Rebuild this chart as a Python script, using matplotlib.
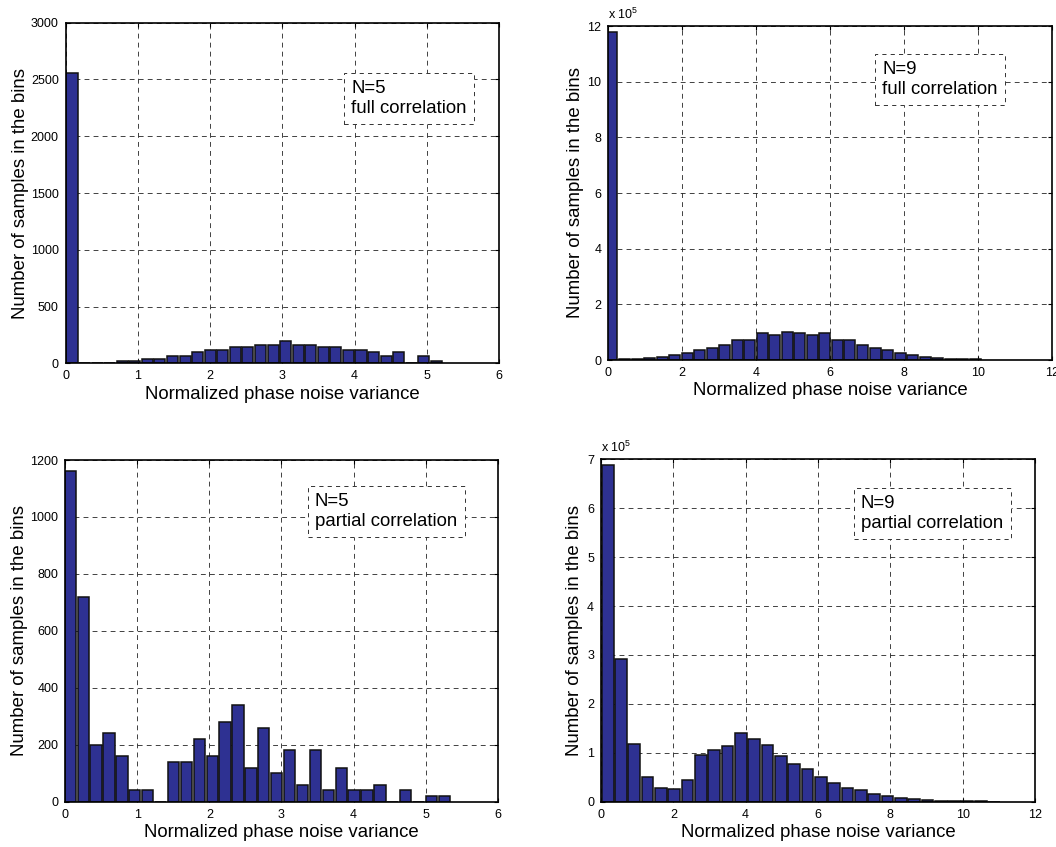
import numpy as np
import matplotlib
matplotlib.use("Agg")
import matplotlib.pyplot as plt

plt.rcParams['font.family'] = ['Liberation Sans', 'DejaVu Sans']
plt.rcParams['mathtext.fontset'] = 'custom'
plt.rcParams['mathtext.rm'] = 'Liberation Sans'
plt.rcParams['mathtext.it'] = 'Liberation Sans'
plt.rcParams['lines.scale_dashes'] = False

# ---------------- data ----------------
n_bins = 30
# N=5 full correlation
tl_range = (0.0, 5.22)
tl_counts = [2560, 0, 0, 0, 20, 20, 40, 40, 60, 60, 100, 120, 120, 140, 140,
             160, 160, 200, 160, 160, 140, 140, 120, 120, 100, 60, 100, 0, 60, 20]
# N=9 full correlation (x 10^5)
tr_range = (-0.07, 10.1)
tr_counts = [11.8, 0.03, 0.03, 0.07, 0.12, 0.18, 0.24, 0.36, 0.43, 0.54, 0.72, 0.72,
             0.96, 0.89, 1.02, 0.96, 0.89, 0.96, 0.72, 0.72, 0.54, 0.43, 0.36, 0.24,
             0.18, 0.12, 0.07, 0.04, 0.03, 0.02]
# N=5 partial correlation
bl_range = (-0.02, 5.35)
bl_counts = [1160, 720, 200, 240, 160, 40, 40, 0, 140, 140, 220, 160, 280, 340, 120,
             260, 100, 180, 60, 180, 40, 120, 40, 40, 60, 0, 40, 0, 20, 20]
# N=9 partial correlation (x 10^5)
br_range = (0.0, 11.05)
br_counts = [6.89, 2.91, 1.18, 0.51, 0.28, 0.26, 0.44, 0.96, 1.05, 1.14, 1.40, 1.28,
             1.16, 0.93, 0.77, 0.67, 0.51, 0.39, 0.28, 0.24, 0.15, 0.12, 0.08, 0.05,
             0.03, 0.02, 0.01, 0.01, 0.005, 0.003]

xlabel = "Normalized phase noise variance"
ylabel = "Number of samples in the bins"
tl_text = "N=5\nfull correlation"
tr_text = "N=9\nfull correlation"
bl_text = "N=5\npartial correlation"
br_text = "N=9\npartial correlation"

tl_yticks = [0, 500, 1000, 1500, 2000, 2500, 3000]
tr_yticks = [0, 2, 4, 6, 8, 10, 12]
bl_yticks = [0, 200, 400, 600, 800, 1000, 1200]
br_yticks = [0, 1, 2, 3, 4, 5, 6, 7]
x6_ticks = [0, 1, 2, 3, 4, 5, 6]
x12_ticks = [0, 2, 4, 6, 8, 10, 12]

bar_color = '#2E3192'

W, H = 1056, 847
fig = plt.figure(figsize=(W / 100, H / 100), dpi=100)


def px_axes(l, t, r, b):
    return fig.add_axes([l / W, 1 - b / H, (r - l) / W, (b - t) / H])


def panel(ax, rng, counts, xticks, yticks, text, box_px, ylab_x, expo=False):
    lo, hi = rng
    step = (hi - lo) / n_bins
    centers = lo + (np.arange(n_bins) + 0.5) * step
    ax.bar(centers, counts, width=step * 0.88, color=bar_color,
           edgecolor='#111111', linewidth=1.1, zorder=2)
    ax.set_xlim(xticks[0], xticks[-1])
    ax.set_ylim(yticks[0], yticks[-1])
    ax.set_xticks(xticks)
    ax.set_yticks(yticks)
    ax.set_axisbelow(True)
    ax.grid(True, color='#222222', linestyle=(0, (3.5, 3)), linewidth=0.6)
    ax.tick_params(direction='in', top=True, right=True, length=3, width=0.8,
                   labelsize=9, pad=5)
    for s in ax.spines.values():
        s.set_linewidth(1.2)
        s.set_zorder(5)
    ax.set_xlabel(xlabel, fontsize=13.4, labelpad=2.5)
    ax.set_ylabel(ylabel, fontsize=13.4, va='center')
    ax.yaxis.set_label_coords(ylab_x, 0.5)
    # text box (pixel coords relative to the figure)
    l, t = box_px
    bb = ax.get_position()
    x_ax = (l / W - bb.x0) / bb.width
    y_ax = ((1 - t / H) - bb.y0) / bb.height
    ax.text(x_ax, y_ax, text, transform=ax.transAxes, ha='left', va='top',
            fontsize=13.4, linespacing=1.2, zorder=6,
            bbox=dict(boxstyle='square,pad=0.4', facecolor='white',
                      edgecolor='#333333', linestyle=(0, (3, 3)), linewidth=0.7))
    if expo:
        ax.text(0.0, 1.012, r'x 10$^{5}$', transform=ax.transAxes,
                ha='left', va='bottom', fontsize=9)


ax1 = px_axes(65.7, 22.7, 499, 363.3)
panel(ax1, tl_range, tl_counts, x6_ticks, tl_yticks, tl_text, (351, 80), -0.105)

ax2 = px_axes(608.3, 26, 1051.7, 360)
panel(ax2, tr_range, tr_counts, x12_ticks, tr_yticks, tr_text, (882, 61), -0.075, expo=True)

ax3 = px_axes(65.3, 460, 497.7, 801.7)
panel(ax3, bl_range, bl_counts, x6_ticks, bl_yticks, bl_text, (315, 493), -0.105)

ax4 = px_axes(601, 459.3, 1035, 801.7)
panel(ax4, br_range, br_counts, x12_ticks, br_yticks, br_text, (861, 495), -0.06, expo=True)

fig.savefig("out.png", dpi=100)
